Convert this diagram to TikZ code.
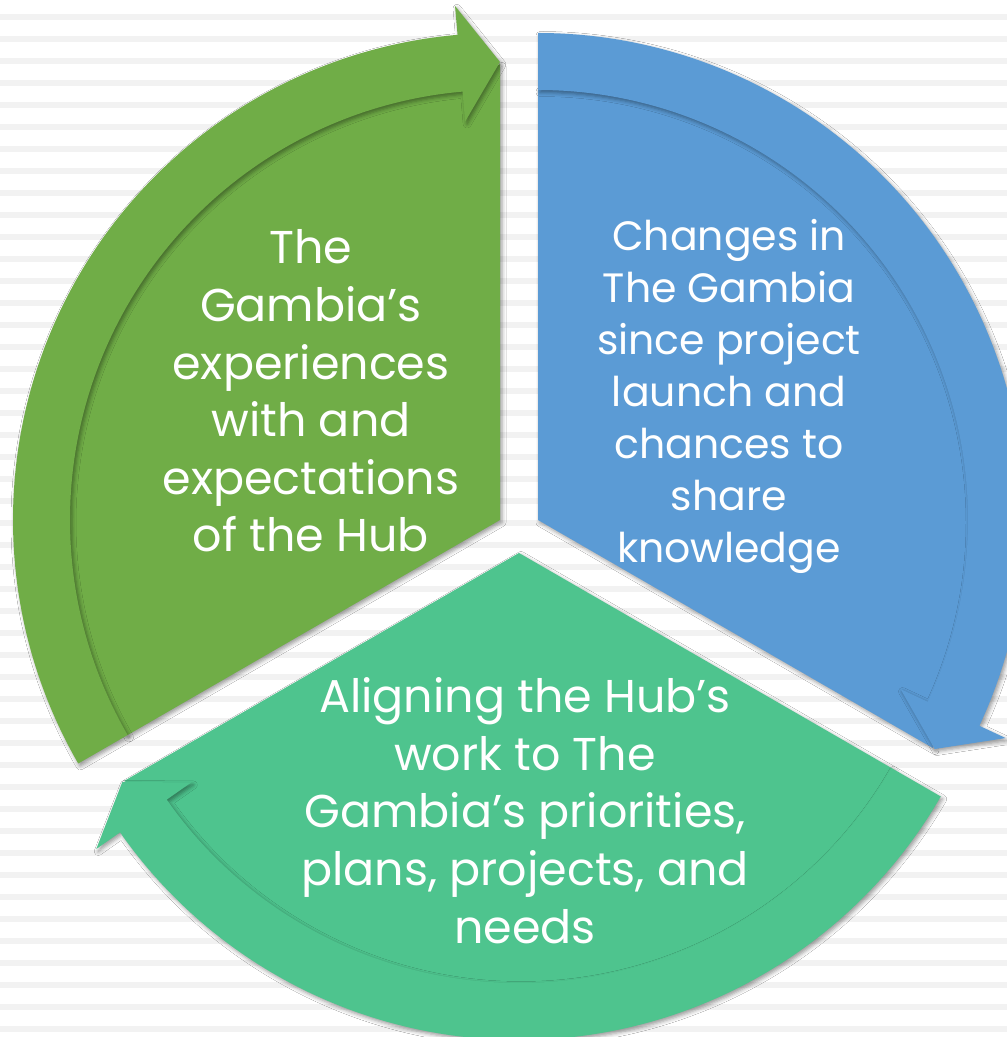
\documentclass[tikz,border=0pt]{standalone}
\usepackage{fontspec}
\setmainfont{Poppins}
\usetikzlibrary{shadows.blur}
\definecolor{segG}{HTML}{70AD47}
\definecolor{segB}{HTML}{5B9BD5}
\definecolor{segT}{HTML}{4EC48E}
\definecolor{stripe}{HTML}{F2F2F2}
\tikzset{
  segshadow/.style={blur shadow={shadow xshift=2pt, shadow yshift=-2.5pt, shadow blur radius=4pt, shadow opacity=40}},
  seglabel/.style={text=white, align=center, inner sep=0pt},
}
\begin{document}
\begin{tikzpicture}[x=1pt,y=1pt]
\useasboundingbox (0,0) rectangle (1007,1037);
\clip (0,0) rectangle (1007,1037);
\fill[white] (0,0) rectangle (1007,1037);
\foreach \k in {0,...,46} {
  \fill[stripe] (0,{1037-14-22*\k}) rectangle (1007,{1037-20-22*\k});
}
% green segment
\begin{scope}[shift={(500,517)}]
  \fill[segG, segshadow] (0,0) -- (210:431) arc[start angle=210, end angle=95, radius=431] -- (90:456) -- cycle;
  \fill[segG, segshadow] (210:430) arc[start angle=210, end angle=95, radius=430]
     -- (95:400) -- (90:458) -- (95:516) -- (95:487)
     arc[start angle=95, end angle=210, radius=487] -- cycle;
\end{scope}
% blue segment
\begin{scope}[shift={(538,517)}]
  \fill[segB, segshadow] (0,0) -- (90:431) arc[start angle=90, end angle=-25, radius=431] -- (-30:456) -- cycle;
  \fill[segB, segshadow] (90:430) arc[start angle=90, end angle=-25, radius=430]
     -- (-25:400) -- (-30:458) -- (-25:516) -- (-25:487)
     arc[start angle=-25, end angle=90, radius=487] -- cycle;
\end{scope}
% teal segment
\begin{scope}[shift={(519,484)}]
  \fill[segT, segshadow] (0,0) -- (-30:431) arc[start angle=-30, end angle=-145, radius=431] -- (-150:456) -- cycle;
  \fill[segT, segshadow] (-30:430) arc[start angle=-30, end angle=-145, radius=430]
     -- (-145:400) -- (-150:458) -- (-145:516) -- (-145:487)
     arc[start angle=-145, end angle=-30, radius=487] -- cycle;
\end{scope}
% labels
\node[seglabel, font=\fontsize{46}{57.6}\selectfont] (lg) at (311,646)
  {The\\Gambia’s\\experiences\\with and\\expectations\\of the Hub};
\node[seglabel, font=\fontsize{41}{52}\selectfont] (lb) at (729,641)
  {Changes in\\The Gambia\\since project\\launch and\\chances to\\share\\knowledge};
\node[seglabel, font=\fontsize{46}{57.7}\selectfont] (lt) at (525,226.5)
  {Aligning the Hub’s\\work to The\\Gambia’s priorities,\\plans, projects, and\\needs};
\end{tikzpicture}
\end{document}
